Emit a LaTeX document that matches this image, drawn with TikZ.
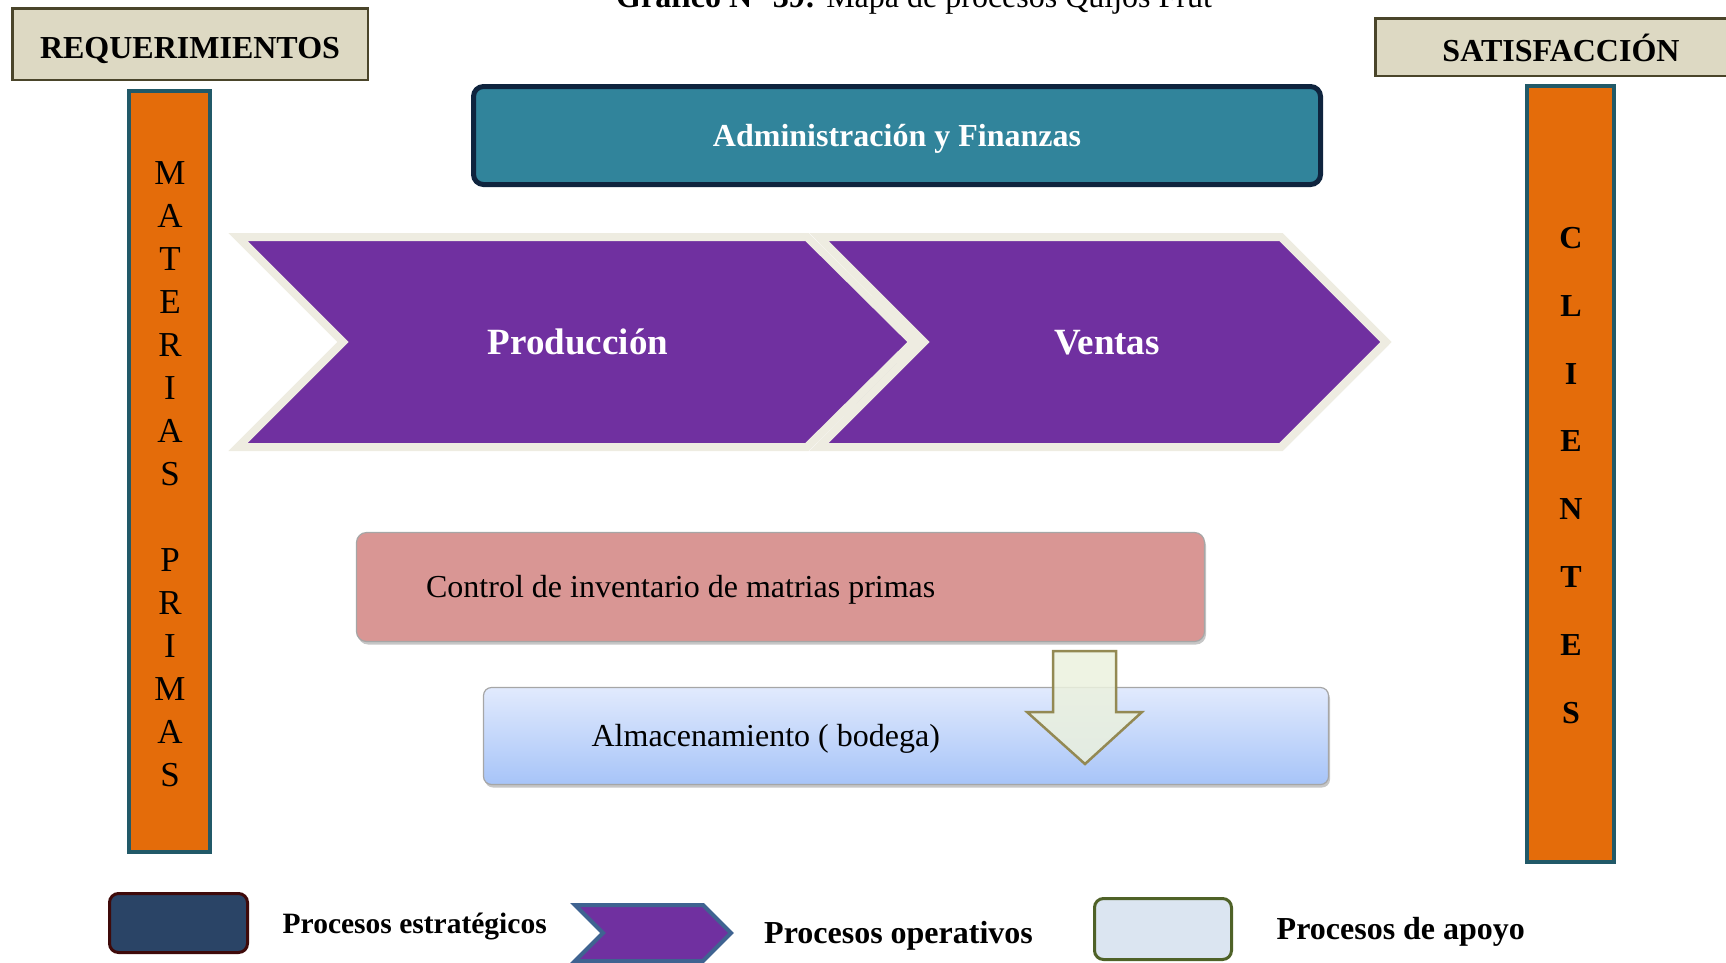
\documentclass[tikz,border=0pt]{standalone}
\usepackage{fontspec}
\setmainfont{Liberation Serif}
\usepackage{tikz}
\usetikzlibrary{positioning,shadows}
\definecolor{beige}{HTML}{DDD9C3}
\definecolor{beigeline}{HTML}{4A452A}
\definecolor{orangebar}{HTML}{E46C0A}
\definecolor{tealline}{HTML}{215968}
\definecolor{adminfill}{HTML}{31849B}
\definecolor{navyline}{HTML}{0F243E}
\definecolor{opfill}{HTML}{7030A0}
\definecolor{cream}{HTML}{EEECE1}
\definecolor{rosefill}{HTML}{D99694}
\definecolor{bluetop}{HTML}{E1EAFD}
\definecolor{bluebot}{HTML}{A7C4F8}
\definecolor{arrowfill}{HTML}{EBF1DE}
\definecolor{arrowline}{HTML}{938953}
\definecolor{stratfill}{HTML}{2A4466}
\definecolor{maroonline}{HTML}{3F0A0A}
\definecolor{steelline}{HTML}{3F6391}
\definecolor{supfill}{HTML}{DBE5F1}
\definecolor{oliveline}{HTML}{4F6228}
\newcommand{\setfs}[1]{\fontsize{#1}{#1}\selectfont}

\begin{document}
\begin{tikzpicture}[
      x=1pt,y=-1pt,
      headbox/.style={draw=beigeline,line width=2.5pt,fill=beige,inner sep=0pt,
        text height=28pt,text depth=0pt,font=\setfs{32}\bfseries},
      bar/.style={draw=tealline,line width=4pt,fill=orangebar,inner sep=0pt},
      letter/.style={inner sep=0pt,font=\setfs{35}},
      bletter/.style={inner sep=0pt,font=\setfs{32}\bfseries},
      adminbox/.style={draw=navyline,line width=5pt,fill=adminfill,rounded corners=10pt,inner sep=0pt,
        text=white,text height=21pt,text depth=0pt,font=\setfs{32}\bfseries},
      chevron/.style={draw=cream,line width=8pt,fill=opfill,line join=miter,
        drop shadow={shadow xshift=2pt,shadow yshift=-3pt,opacity=.3,fill=black!70,draw=black!70}},
      optext/.style={inner sep=0pt,text=white,text height=24.5pt,text depth=0pt,font=\setfs{37}\bfseries},
      ctrlbox/.style={draw=black!35,line width=1.2pt,fill=rosefill,rounded corners=10pt,
        drop shadow={shadow xshift=1.5pt,shadow yshift=-3pt,opacity=.45}},
      almbox/.style={draw=black!35,line width=1.2pt,top color=bluetop,bottom color=bluebot,rounded corners=8pt,
        drop shadow={shadow xshift=1.5pt,shadow yshift=-3pt,opacity=.45}},
      boxtext/.style={inner sep=0pt,text height=21pt,text depth=0pt,font=\setfs{32}},
      blockarrow/.style={draw=arrowline,line width=2.5pt,fill=arrowfill,fill opacity=.85,line join=miter},
      legtext/.style={inner sep=0pt,text height=21pt,text depth=0pt,font=\setfs{32}\bfseries}]
    \useasboundingbox (0,0) rectangle (1726,962);
    % title, cut off by the page edge
    \node[anchor=base west,inner sep=0pt,font=\setfs{32}] (title) at (616,7) {\textbf{Gráfico N° 39:} Mapa de procesos Quijos Frut};
    % side headers and bars
    \node[headbox,minimum width=355.5pt,minimum height=71.5pt] (req) at (190,44) {REQUERIMIENTOS};
    \node[headbox,minimum width=371.5pt,minimum height=57.5pt] (sat) at (1561,47) {SATISFACCIÓN};
    \node[bar,minimum width=81pt,minimum height=761pt] (mpbar) at (169.5,471.5) {};
    \node[bar,minimum width=87pt,minimum height=776pt] (clbar) at (1570.5,474) {};
    \foreach \i/\l in {0/M,1/A,2/T,3/E,4/R,5/I,6/A,7/S,9/P,10/R,11/I,12/M,13/A,14/S}
      \node[letter] (mp\i) at (170,{173+43*\i}) {\l};
    \foreach \l [count=\i from 0] in {C,L,I,E,N,T,E,S}
      \node[bletter] (cl\i) at (1571,{238+67.8*\i}) {\l};
    % strategic process
    \node[adminbox,minimum width=847pt,minimum height=98pt] (admin) at (897,135.5) {Administración y Finanzas};
    % operative processes
    \draw[chevron] (238,237) -- (807,237) -- (913,342) -- (807,447) -- (238,447) -- (343,342) -- cycle;
    \draw[chevron] (819,237) -- (1281,237) -- (1386,342) -- (1281,447) -- (819,447) -- (924,342) -- cycle;
    \node[optext] (prod) at (578,342) {Producción};
    \node[optext] (vent) at (1107,342) {Ventas};
    % support processes
    \node[ctrlbox,minimum width=848pt,minimum height=109pt] (ctrl) at (780.5,587) {};
    \node[boxtext,right=70pt of ctrl.west] (ctrltxt) {Control de inventario de matrias primas};
    \node[almbox,minimum width=845pt,minimum height=97pt] (alm) at (906,736) {};
    \node[boxtext,right=108.5pt of alm.west] (almtxt) {Almacenamiento ( bodega)};
    \draw[blockarrow] (1053,651) -- (1116,651) -- (1116,712) -- (1142,712) -- (1085,764) -- (1027,712) -- (1053,712) -- cycle;
    % legend
    \node[draw=maroonline,line width=3pt,fill=stratfill,rounded corners=9pt,minimum width=138pt,minimum height=59pt] (strat) at (178.5,923) {};
    \node[legtext,font=\setfs{29.5}\bfseries,right=33.5pt of strat] (strattxt) {Procesos estratégicos};
    \draw[draw=steelline,line width=4pt,fill=opfill,line join=miter] (575,905) -- (703,905) -- (731,933) -- (703,961) -- (575,961) -- (603,933) -- cycle;
    \node[legtext,anchor=west] (optxt) at (764,933) {Procesos operativos};
    \node[draw=oliveline,line width=3pt,fill=supfill,rounded corners=9pt,minimum width=137pt,minimum height=61pt] (sup) at (1163,929) {};
    \node[legtext,right=43.5pt of sup] (suptxt) {Procesos de apoyo};
  \end{tikzpicture}
\end{document}
